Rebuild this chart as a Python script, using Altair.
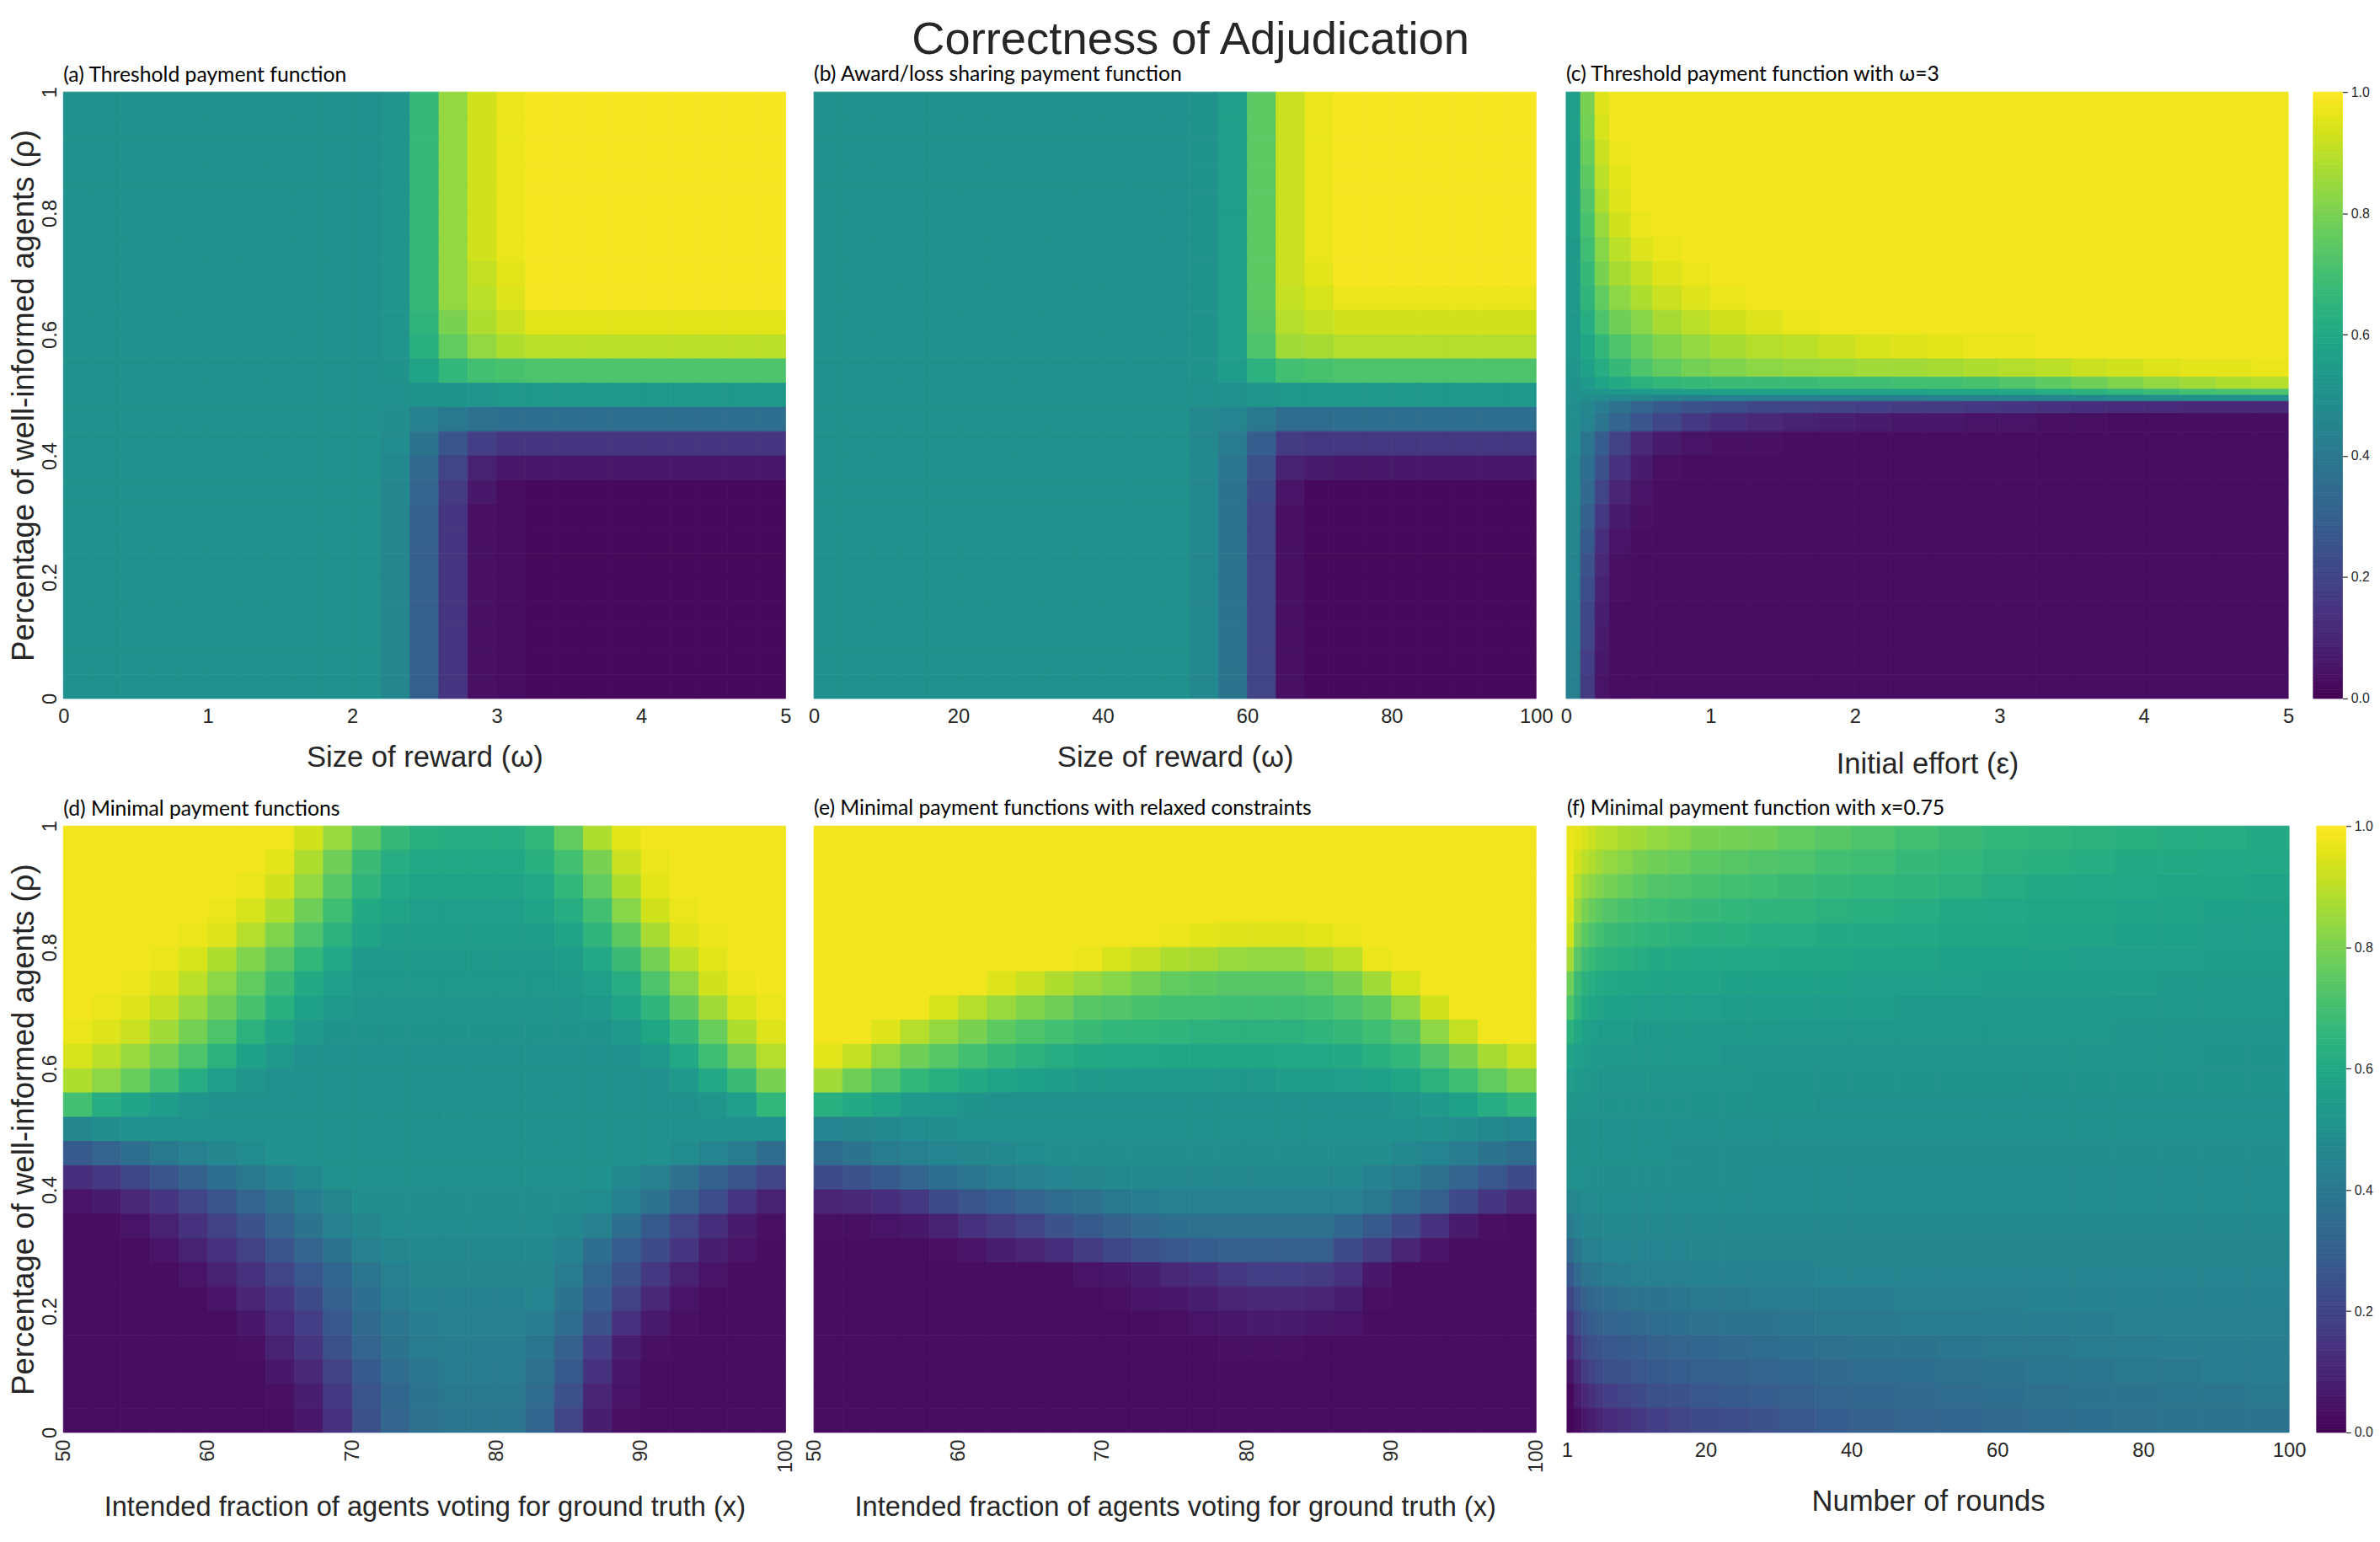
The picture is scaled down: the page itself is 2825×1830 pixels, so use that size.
import altair as alt
import pandas as pd

# ---------------- grid structure (data units) ----------------
RHO_EDGES = [0.00, 0.04, 0.08, 0.12, 0.16, 0.20, 0.24, 0.28, 0.32, 0.36, 0.40, 0.44, 0.48,
             0.52, 0.56, 0.60, 0.64, 0.68, 0.72, 0.76, 0.80, 0.84, 0.88, 0.92, 0.96, 1.00]
C_RHO_EDGES = [0.00, 0.04, 0.08, 0.12, 0.16, 0.20, 0.24, 0.28, 0.32, 0.36, 0.40, 0.44, 0.47,
               0.49, 0.50, 0.51, 0.53, 0.56, 0.60, 0.64, 0.68, 0.72, 0.76, 0.80, 0.84, 0.88,
               0.92, 0.96, 1.00]
A_X_EDGES = [0.0, 0.2, 0.4, 0.6, 0.8, 1.0, 1.2, 1.4, 1.6, 1.8, 2.0, 2.2, 2.4, 2.6, 2.8, 3.0,
             3.2, 3.4, 3.6, 3.8, 4.0, 4.2, 4.4, 4.6, 4.8, 5.0]
B_X_EDGES = [0, 4, 8, 12, 16, 20, 24, 28, 32, 36, 40, 44, 48, 52, 56, 60, 64, 68, 72, 76, 80,
             84, 88, 92, 96, 100]
C_X_EDGES = [0.0, 0.1, 0.2, 0.3, 0.45, 0.6, 0.8, 1.0, 1.25, 1.5, 1.75, 2.0, 2.25, 2.5, 2.75,
             3.0, 3.25, 3.5, 3.75, 4.0, 4.25, 4.5, 4.75, 5.0]
D_X_EDGES = [50, 52, 54, 56, 58, 60, 62, 64, 66, 68, 70, 72, 74, 76, 78, 80, 82, 84, 86, 88,
             90, 92, 94, 96, 98, 100]
E_X_EDGES = D_X_EDGES
F_X_EDGES = [1, 2, 3, 4, 5, 6, 8, 10, 12, 15, 18, 22, 26, 30, 35, 40, 46, 52, 58, 64, 70, 76,
             82, 88, 94, 100]

# ---------------- values (percent), rows from rho = 1 (top) down to rho = 0 ----------------
A_GRID = [
    [50]*11 + [52, 67, 84, 93, 97] + [99]*9,
    [50]*11 + [52, 67, 84, 93, 97] + [99]*9,
    [50]*11 + [52, 67, 84, 93, 97] + [99]*9,
    [50]*11 + [52, 67, 84, 93, 97] + [99]*9,
    [50]*11 + [52, 67, 84, 93, 97] + [99]*9,
    [50]*11 + [52, 67, 84, 93, 97] + [99]*9,
    [50]*11 + [52, 67, 84, 93, 97] + [99]*9,
    [50]*11 + [52, 67, 84, 91, 96] + [99]*9,
    [50]*11 + [52, 67, 84, 90, 95] + [99]*9,
    [50]*11 + [52, 65, 80, 88, 92] + [96]*9,
    [50]*11 + [52, 63, 76, 84, 88] + [90]*9,
    [50]*11 + [51, 58, 66, 70, 71] + [72]*9,
    [50]*11 + [50, 51, 51, 52, 53] + [53]*9,
    [50]*11 + [49, 44, 40, 37, 36] + [36]*9,
    [50]*11 + [48, 38, 26, 18, 15] + [15]*9,
    [50]*11 + [47, 34, 20, 9, 6] + [6]*9,
    [50]*11 + [46, 32, 17, 6, 3] + [2]*9,
    [50]*11 + [46, 30, 15, 4, 3] + [2]*9,
    [50]*11 + [46, 30, 15, 4, 3] + [2]*9,
    [50]*11 + [46, 30, 15, 4, 3] + [2]*9,
    [50]*11 + [46, 30, 15, 4, 3] + [2]*9,
    [50]*11 + [46, 30, 15, 4, 3] + [2]*9,
    [50]*11 + [46, 30, 15, 4, 3] + [2]*9,
    [50]*11 + [46, 30, 15, 4, 3] + [2]*9,
    [50]*11 + [46, 30, 15, 4, 3] + [2]*9,
]

B_GRID = [
    [50]*13 + [51, 56, 75, 92, 97] + [99]*7,
    [50]*13 + [51, 56, 75, 92, 97] + [99]*7,
    [50]*13 + [51, 56, 75, 92, 97] + [99]*7,
    [50]*13 + [51, 56, 75, 92, 97] + [99]*7,
    [50]*13 + [51, 56, 75, 92, 97] + [99]*7,
    [50]*13 + [51, 56, 75, 92, 97] + [99]*7,
    [50]*13 + [51, 56, 75, 92, 97] + [99]*7,
    [50]*13 + [51, 56, 75, 92, 96] + [99]*7,
    [50]*13 + [51, 56, 75, 91, 94] + [97]*7,
    [50]*13 + [51, 56, 74, 89, 91] + [93]*7,
    [50]*13 + [51, 56, 72, 86, 87] + [89]*7,
    [50]*13 + [51, 55, 64, 70, 71] + [72]*7,
    [50]*13 + [50, 50, 52, 53, 53] + [53]*7,
    [50]*13 + [47, 45, 40, 35, 35] + [36]*7,
    [50]*13 + [47, 41, 29, 17, 16] + [16]*7,
    [50]*13 + [47, 39, 24, 9, 7] + [6]*7,
    [50]*13 + [47, 38, 22, 5, 2] + [2]*7,
    [50]*13 + [47, 38, 20, 4, 2] + [2]*7,
    [50]*13 + [47, 38, 20, 4, 2] + [2]*7,
    [50]*13 + [47, 38, 20, 4, 2] + [2]*7,
    [50]*13 + [47, 38, 20, 4, 2] + [2]*7,
    [50]*13 + [47, 38, 20, 4, 2] + [2]*7,
    [50]*13 + [47, 38, 20, 4, 2] + [2]*7,
    [50]*13 + [47, 38, 20, 4, 2] + [2]*7,
    [50]*13 + [47, 38, 20, 4, 2] + [2]*7,
]

# panel (c) uses C_RHO_EDGES (finer rows around rho = 0.5)
C_GRID = [
    [56, 80, 95] + [98]*20,
    [56, 79, 94] + [98]*20,
    [55, 77, 92, 97] + [98]*19,
    [55, 75, 90, 96] + [98]*19,
    [55, 73, 88, 95] + [98]*19,
    [55, 71, 85, 93, 97] + [98]*18,
    [54, 69, 82, 90, 95, 97] + [98]*17,
    [54, 67, 80, 87, 91, 95, 97] + [98]*16,
    [54, 65, 76, 83, 88, 92, 95, 97] + [98]*15,
    [53, 62, 72, 78, 82, 87, 90, 93, 95, 97] + [98]*13,
    [53, 59, 66, 72, 77, 81, 84, 87, 89, 90, 92, 94, 95, 96, 97, 97] + [98]*7,
    [52, 57, 62, 67, 72, 76, 79, 81, 83, 84, 85, 86, 86, 87, 88, 89, 90, 92, 93, 95, 96, 96, 97],
    [51, 54, 58, 61, 64, 66, 67, 68, 68, 68, 69, 69, 70, 70, 71, 73, 75, 78, 81, 84, 86, 88, 89],
    [50, 51, 52, 53, 54, 55, 56, 57, 57, 57, 58, 58, 58, 59, 59, 60, 62, 64, 66, 68, 70, 71, 72],
    [50, 49, 48, 47, 46, 45, 44, 44, 43, 43, 43, 43, 43, 44, 44, 45, 46, 47, 48, 49, 50, 50, 50],
    [49, 46, 42, 37, 32, 28, 25, 23, 21, 20, 19, 18, 17, 17, 16, 15, 14, 13, 12, 12, 11, 11, 11],
    [49, 45, 39, 32, 26, 21, 16, 13, 11, 9, 8, 7, 6, 6, 5, 5, 4, 4, 3, 3, 3, 3, 3],
    [48, 39, 29, 19, 11, 7, 5, 4, 4] + [3]*14,
    [47, 36, 24, 14, 7, 4] + [3]*17,
    [47, 34, 20, 10, 5] + [3]*18,
    [46, 31, 16, 7, 4] + [3]*18,
    [46, 28, 13, 5] + [3]*19,
    [45, 25, 11, 4] + [3]*19,
    [45, 23, 9, 4] + [3]*19,
    [44, 21, 8] + [3]*20,
    [44, 20, 7] + [3]*20,
    [43, 18, 6] + [3]*20,
    [43, 17, 5] + [3]*20,
]

D_GRID = [
    [98]*8 + [93, 85, 75, 67, 63, 62, 62, 62, 66, 76, 88, 96] + [98]*5,
    [98]*7 + [96, 88, 78, 68, 62, 60, 60, 60, 60, 63, 70, 80, 92, 97] + [98]*4,
    [98]*6 + [97, 93, 84, 74, 65, 60, 58, 58, 58, 58, 60, 66, 76, 88, 96] + [98]*4,
    [98]*5 + [97, 94, 88, 78, 69, 61, 58, 56, 56, 56, 56, 58, 62, 70, 82, 93, 97] + [98]*3,
    [98]*4 + [97, 95, 89, 81, 72, 64, 58, 55, 55, 55, 55, 55, 55, 58, 65, 75, 87, 95, 97] + [98]*2,
    [98]*3 + [97, 94, 88, 81, 74, 66, 60, 54, 54, 54, 54, 54, 54, 54, 55, 60, 68, 79, 90, 96] + [98]*2,
    [98, 98, 97, 95, 90, 83, 76, 68, 61, 56, 53, 53, 53, 53, 53, 53, 53, 54, 56, 62, 72, 83, 93, 97, 98],
    [98, 97, 95, 91, 85, 78, 71, 63, 57, 54, 52, 52, 52, 52, 52, 52, 52, 52, 54, 58, 65, 75, 86, 94, 97],
    [97, 95, 92, 86, 79, 72, 64, 58, 54, 51, 51, 51, 51, 51, 51, 51, 51, 51, 51, 54, 59, 67, 77, 88, 95],
    [94, 90, 85, 79, 72, 64, 57, 53] + [50]*12 + [54, 60, 69, 79, 89],
    [88, 83, 77, 70, 62, 56, 52] + [50]*14 + [54, 60, 68, 80],
    [70, 62, 58, 55, 52] + [50]*17 + [52, 56, 66],
    [46, 49] + [50]*23,
    [28, 32, 36, 40, 43, 46, 48] + [50]*14 + [48, 45, 41, 35],
    [13, 16, 21, 26, 31, 36, 40, 44, 47] + [50]*10 + [47, 43, 37, 31, 26, 20],
    [5, 7, 11, 15, 20, 26, 32, 37, 42, 46] + [49]*8 + [48, 44, 38, 31, 23, 15, 9],
    [3, 3, 5, 9, 14, 19, 25, 32, 38, 43, 46] + [48]*6 + [47, 43, 36, 28, 20, 13, 7, 4],
    [3, 3, 3, 5, 9, 14, 19, 26, 32, 38, 43, 46] + [47]*5 + [44, 36, 29, 22, 15, 8, 5, 3],
    [3, 3, 3, 3, 5, 9, 14, 20, 27, 33, 39, 43] + [46]*5 + [41, 33, 24, 16, 9, 5, 3, 3],
    [3]*5 + [5, 10, 15, 22, 30, 36, 41, 44, 44, 44, 44, 45, 38, 29, 19, 11, 5] + [3]*3,
    [3]*6 + [6, 12, 18, 27, 34, 39, 42, 43, 43, 43, 42, 35, 25, 14, 7, 4] + [3]*3,
    [3]*6 + [4, 9, 15, 24, 32, 38, 41, 42, 42, 42, 39, 31, 18, 8, 4] + [3]*4,
    [3]*7 + [6, 11, 19, 28, 35, 39, 41, 41, 41, 37, 28, 14, 6] + [3]*5,
    [3]*7 + [4, 8, 16, 26, 33, 38, 40, 40, 40, 35, 24, 10, 5] + [3]*5,
    [3]*8 + [6, 14, 24, 32, 37, 39, 39, 39, 33, 20, 8, 4] + [3]*5,
]

E_GRID = [
    [98]*25,
    [98]*25,
    [98]*25,
    [98]*25,
    [98]*12 + [97, 96, 95, 95, 95, 96, 97] + [98]*6,
    [98]*9 + [97, 94, 91, 88, 87, 85, 84, 84, 87, 90, 97] + [98]*5,
    [98]*6 + [95, 92, 88, 85, 82, 79, 76, 75, 74, 74, 74, 76, 80, 86, 94] + [98]*4,
    [98]*4 + [94, 89, 85, 81, 78, 74, 73, 71, 70, 70, 69, 69, 69, 70, 72, 75, 83, 93] + [98]*3,
    [98, 98, 95, 89, 84, 80, 75, 72, 70, 68, 66, 66, 65, 64, 64, 64, 64, 65, 67, 69, 73, 83, 91, 98, 98],
    [96, 91, 84, 78, 74, 70, 67, 64, 62, 61, 60, 60, 59, 59, 59, 59, 60, 60, 61, 63, 66, 73, 80, 87, 92],
    [86, 78, 72, 66, 63, 61, 58, 57, 55, 54, 54, 53, 53, 53, 53, 53, 55, 55, 56, 57, 59, 64, 69, 76, 81],
    [63, 61, 58, 54, 53, 51] + [50]*14 + [52, 54, 57, 62, 66],
    [45, 46, 47, 48, 49] + [50]*17 + [49, 47, 45],
    [35, 38, 41, 43, 45, 46, 47, 48] + [49]*12 + [47, 45, 42, 38, 35],
    [22, 25, 28, 32, 36, 39, 41, 43, 45, 46] + [47]*9 + [44, 41, 37, 32, 27, 22],
    [10, 11, 13, 16, 22, 26, 29, 32, 35, 37, 40, 42] + [43]*7 + [40, 35, 30, 22, 15, 11],
    [4, 4, 5, 6, 9, 14, 17, 20, 25, 28, 31, 34, 36] + [37]*5 + [33, 28, 22, 14, 7, 4, 3],
    [3, 3, 3, 3, 4, 5, 8, 10, 13, 17, 21, 24, 27, 29] + [30]*4 + [22, 17, 10, 5, 3, 3, 3],
    [3]*9 + [5, 6, 8, 11, 13, 16, 18, 18, 17, 14, 6] + [3]*5,
    [3]*10 + [4, 5, 6, 8, 10, 11, 11, 10, 8, 4] + [3]*5,
    [3]*12 + [4, 5, 6, 7, 7, 6, 5] + [3]*6,
    [3]*14 + [4, 4, 4] + [3]*8,
    [3]*25,
    [3]*25,
    [3]*25,
]

F_GRID = [
    [97, 96, 94, 92, 90, 89, 87, 86, 84, 82, 80, 79, 78, 76, 74, 72, 70, 68, 66, 65, 64, 63, 62, 62, 61],
    [97, 93, 90, 88, 86, 84, 82, 80, 78, 77, 75, 74, 73, 72, 70, 69, 67, 66, 64, 63, 62, 61, 61, 60, 60],
    [96, 89, 85, 83, 81, 79, 77, 75, 73, 72, 71, 70, 69, 68, 67, 66, 65, 64, 62, 61, 60, 60, 59, 59, 58],
    [95, 85, 80, 77, 75, 73, 71, 70, 69, 68, 67, 66, 65, 65, 64, 63, 62, 61, 60, 59, 59, 58, 58, 57, 57],
    [93, 80, 75, 72, 70, 68, 67, 66, 65, 64, 63, 63, 62, 62, 61, 61, 60, 59, 59, 58, 58, 57, 57, 56, 56],
    [86, 74, 69, 67, 65, 64, 63, 62, 61, 61, 60, 60, 60, 59, 59, 58, 58, 57, 57, 57, 56, 56, 56, 55, 55],
    [78, 68, 64, 62, 61, 60, 59, 59, 58, 58, 58, 57, 57, 57, 57, 56, 56, 56, 55, 55, 55, 55, 54, 54, 54],
    [72, 65, 61, 59, 58, 57, 57, 56, 56, 56, 56, 55, 55, 55, 55, 55, 54, 54, 54, 54, 54, 53, 53, 53, 53],
    [64, 60, 57, 56, 55, 55, 55, 54, 54, 54, 54, 54, 54, 53, 53, 53, 53, 53, 53, 53, 53, 52, 52, 52, 52],
    [58, 56, 55, 54, 54] + [53]*6 + [52]*12 + [51]*2,
    [55, 54, 53, 53] + [52]*8 + [51]*13,
    [53, 52, 52] + [51]*11 + [50]*11,
    [51] + [50]*24,
    [50]*9 + [49]*16,
    [50, 50] + [49]*10 + [48]*13,
    [46, 47] + [48]*23,
    [41, 44, 46, 46, 46] + [47]*20,
    [35, 40, 43, 43, 44] + [45]*5 + [46]*15,
    [28, 34, 38, 39, 40, 41, 42, 43, 43, 43, 44, 44, 44, 44] + [45]*11,
    [21, 27, 31, 33, 34, 35, 37, 38, 38, 39, 40, 40, 41, 41, 42, 42, 43, 43, 43, 44, 44, 44, 44, 44, 44],
    [15, 22, 27, 29, 31, 32, 33, 34, 35, 36, 37, 38, 38, 39, 40, 40, 41, 41, 42, 42, 42, 43, 43, 43, 43],
    [10, 17, 22, 24, 26, 27, 28, 29, 31, 32, 33, 34, 35, 36, 37, 38, 38, 39, 40, 40, 41, 41, 42, 42, 42],
    [5, 12, 17, 20, 22, 24, 25, 27, 28, 29, 30, 31, 32, 33, 34, 35, 36, 37, 38, 39, 39, 40, 40, 41, 41],
    [2, 7, 11, 14, 16, 18, 20, 22, 24, 25, 27, 28, 29, 30, 32, 33, 34, 35, 36, 37, 38, 38, 39, 39, 40],
    [1, 3, 6, 8, 10, 12, 14, 16, 18, 20, 22, 23, 25, 27, 29, 30, 32, 33, 34, 35, 36, 37, 38, 38, 38],
]

# ---------------- text ----------------
MAIN_TITLE = "Correctness of Adjudication"
SUBTITLES = ["(a) Threshold payment function",
             "(b) Award/loss sharing payment function",
             "(c) Threshold payment function with \u03c9=3",
             "(d) Minimal payment functions",
             "(e) Minimal payment functions with relaxed constraints",
             "(f) Minimal payment function with x=0.75"]
X_TITLES = ["Size of reward (\u03c9)", "Size of reward (\u03c9)", "Initial effort (\u03b5)",
            "Intended fraction of agents voting for ground truth (x)",
            "Intended fraction of agents voting for ground truth (x)",
            "Number of rounds"]
Y_TITLE = "Percentage of well-informed agents (\u03c1)"
X_TICKS = [[0, 1, 2, 3, 4, 5], [0, 20, 40, 60, 80, 100], [0, 1, 2, 3, 4, 5],
           [50, 60, 70, 80, 90, 100], [50, 60, 70, 80, 90, 100], [1, 20, 40, 60, 80, 100]]
X_DOMAINS = [[0, 5], [0, 100], [0, 5], [50, 100], [50, 100], [1, 100]]
Y_TICKS = [0, 0.2, 0.4, 0.6, 0.8, 1.0]
CBAR_TICKS = [0.0, 0.2, 0.4, 0.6, 0.8, 1.0]
CBAR_STEPS = 200  # colour-bar resolution

W, H = 867, 728
FONT = "Liberation Sans"
TXT = "#262626"
TICK_FS = 24


def viridis():
    return alt.Scale(scheme="viridis", domain=[0, 1])


def grid_frame(grid, x_edges, rho_edges):
    recs = []
    n = len(grid)
    assert n == len(rho_edges) - 1
    for i, row in enumerate(grid):
        assert len(row) == len(x_edges) - 1, (i, len(row))
        y0 = rho_edges[n - 1 - i]
        y1 = rho_edges[n - i]
        for j, v in enumerate(row):
            recs.append({"x0": x_edges[j], "x1": x_edges[j + 1], "y0": y0, "y1": y1,
                         "v": v / 100.0})
    return pd.DataFrame(recs)


def panel(idx, grid, x_edges, rho_edges, show_y, rotate_x, title_pad, x_title_fs, sub_offset):
    df = grid_frame(grid, x_edges, rho_edges)
    common = dict(ticks=False, tickSize=0, domain=False, grid=False, labelFlush=False,
                  labelFontSize=TICK_FS, labelFont=FONT, titleFont=FONT,
                  titleFontWeight="normal", labelColor=TXT, titleColor=TXT)
    if rotate_x:
        xaxis = alt.Axis(title=X_TITLES[idx], values=X_TICKS[idx], format="d", labelAngle=270,
                         labelAlign="right", labelBaseline="middle", labelPadding=8,
                         titlePadding=title_pad, titleFontSize=x_title_fs, **common)
    else:
        xaxis = alt.Axis(title=X_TITLES[idx], values=X_TICKS[idx], format="d", labelAngle=0,
                         labelPadding=10, titlePadding=title_pad, titleFontSize=x_title_fs,
                         **common)
    if show_y:
        yaxis = alt.Axis(title=Y_TITLE, values=Y_TICKS, format="~g", labelAngle=270,
                         labelAlign="center", labelBaseline="bottom", labelPadding=4,
                         titlePadding=0, titleFontSize=37, **common)
    else:
        yaxis = None
    ch = alt.Chart(df).mark_rect(strokeWidth=0.8).encode(
        x=alt.X("x0:Q", scale=alt.Scale(domain=X_DOMAINS[idx], nice=False, zero=False), axis=xaxis),
        x2="x1:Q",
        y=alt.Y("y0:Q", scale=alt.Scale(domain=[0, 1], nice=False, zero=False), axis=yaxis),
        y2="y1:Q",
        fill=alt.Fill("v:Q", scale=viridis(), legend=None),
        stroke=alt.Stroke("v:Q", scale=viridis(), legend=None),
    ).properties(
        width=W, height=H,
        title=alt.TitleParams(SUBTITLES[idx], anchor="start", frame="group", font="Lato",
                              fontSize=25, fontWeight="normal", color="black",
                              offset=sub_offset),
    )
    return ch


def colorbar():
    df = pd.DataFrame({
        "lo": [i / CBAR_STEPS for i in range(CBAR_STEPS)],
        "hi": [(i + 1) / CBAR_STEPS for i in range(CBAR_STEPS)],
        "v": [(i + 0.5) / CBAR_STEPS for i in range(CBAR_STEPS)],
    })
    return alt.Chart(df).mark_rect(strokeWidth=0.8).encode(
        y=alt.Y("lo:Q", scale=alt.Scale(domain=[0, 1], nice=False, zero=False),
                axis=alt.Axis(orient="right", values=CBAR_TICKS, format=".1f", ticks=True,
                              tickSize=6, tickWidth=1.2, tickColor=TXT, domain=False,
                              grid=False, labelFlush=False, labelFontSize=16, labelFont=FONT,
                              labelColor=TXT, labelPadding=4, title=None)),
        y2="hi:Q",
        fill=alt.Fill("v:Q", scale=viridis(), legend=None),
        stroke=alt.Stroke("v:Q", scale=viridis(), legend=None),
    ).properties(
        width=35, height=H,
        title=alt.TitleParams(" ", font="Lato", fontSize=25, offset=0),
    )


pa = panel(0, A_GRID, A_X_EDGES, RHO_EDGES, True, False, 19, 35, 1)
pb = panel(1, B_GRID, B_X_EDGES, RHO_EDGES, False, False, 19, 35, 8)
pc = panel(2, C_GRID, C_X_EDGES, C_RHO_EDGES, False, False, 28, 35, 8)
pd_ = panel(3, D_GRID, D_X_EDGES, RHO_EDGES, True, True, 26, 33, 1)
pe = panel(4, E_GRID, E_X_EDGES, RHO_EDGES, False, True, 26, 33, 8)
pf = panel(5, F_GRID, F_X_EDGES, RHO_EDGES, False, False, 32, 35, 8)

IND = dict(fill="independent", stroke="independent")
row1 = alt.hconcat(
    alt.hconcat(alt.hconcat(pa, pb, spacing=20).resolve_scale(**IND), pc,
                spacing=8).resolve_scale(**IND),
    colorbar(), spacing=22,
).resolve_scale(**IND)
row2 = alt.hconcat(
    alt.hconcat(alt.hconcat(pd_, pe, spacing=10).resolve_scale(**IND), pf,
                spacing=18).resolve_scale(**IND),
    colorbar(), spacing=11,
).resolve_scale(**IND)

chart = alt.vconcat(row1, row2, spacing=22).resolve_scale(**IND).properties(
    title=alt.TitleParams(MAIN_TITLE, font=FONT, fontSize=55, fontWeight="normal",
                          anchor="middle", color=TXT, offset=0),
    padding={"left": 2, "top": 2, "right": 0, "bottom": 0},
    background="white",
).configure_view(strokeWidth=0)

chart.save("out.html", embed_options={"renderer": "svg", "actions": False})
